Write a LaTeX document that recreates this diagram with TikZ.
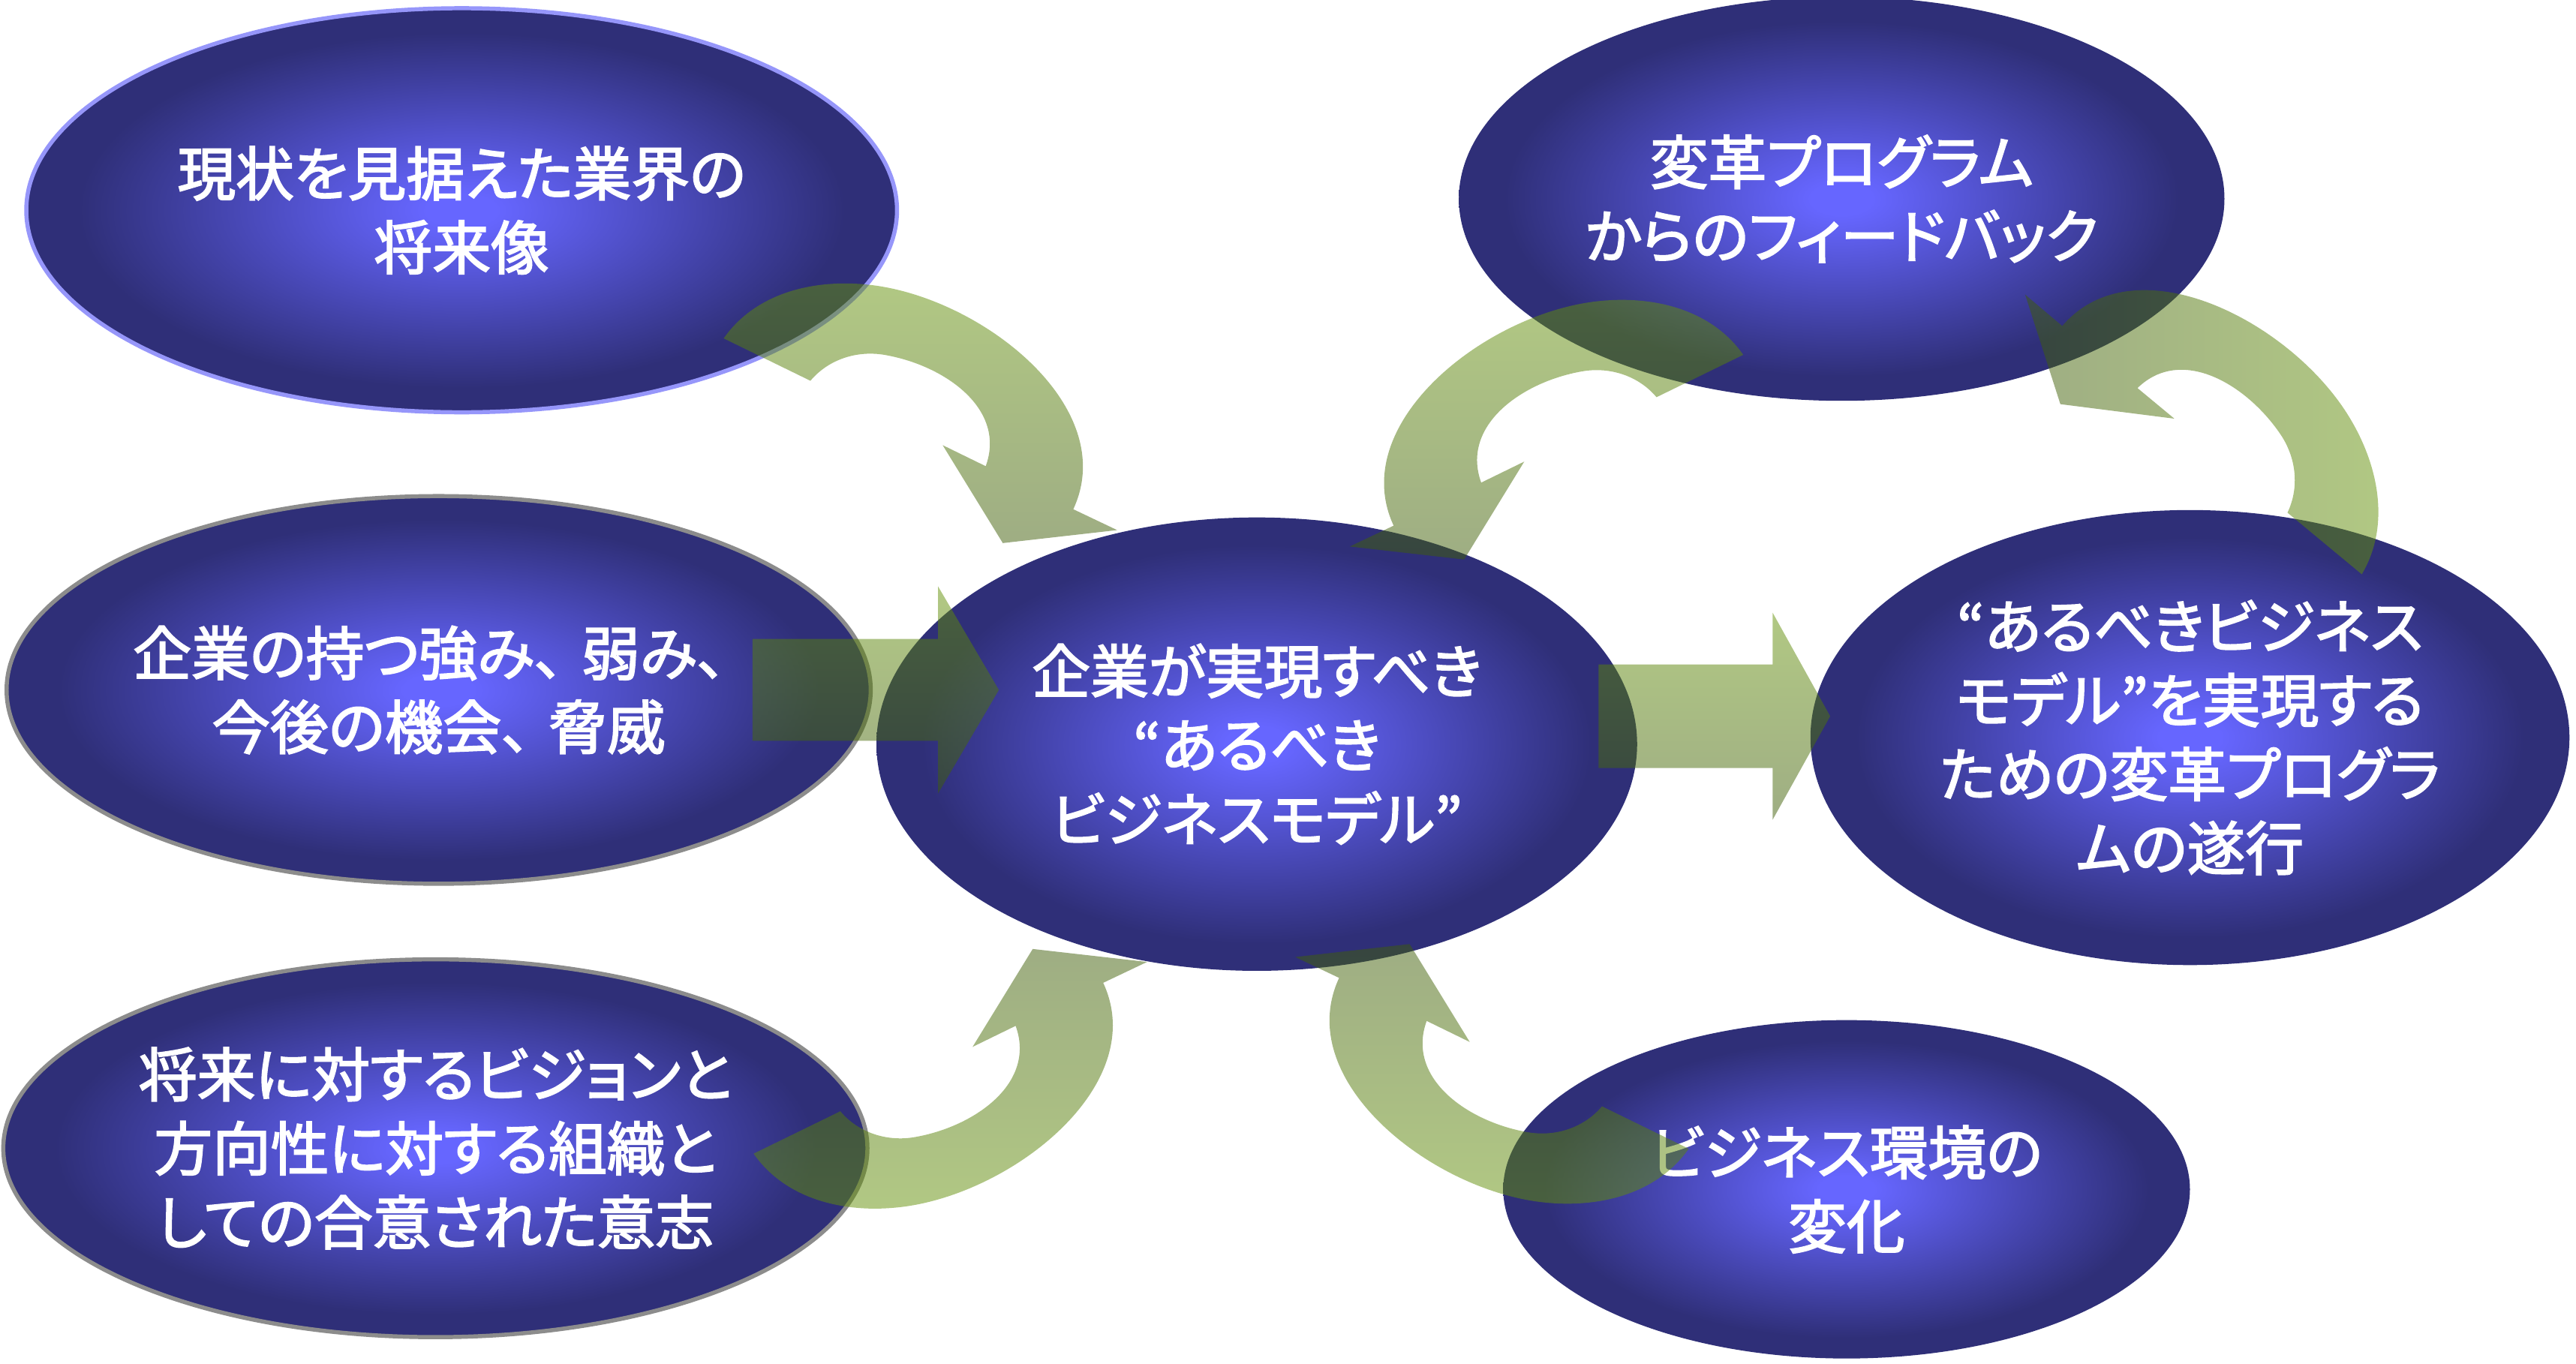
\documentclass[tikz,border=0pt]{standalone}
\usepackage{fontspec}
\usetikzlibrary{shapes.geometric}
\newfontfamily\jpfont{Noto Sans CJK JP}[FakeBold=2.5, RawFeature=+palt]
\newcommand{\jptext}{\jpfont\fontsize{35.5}{45}\selectfont}
\newcommand{\tou}{、\kern 11pt\relax}
\definecolor{ballIn}{RGB}{102,102,255}
\definecolor{ballOut}{RGB}{47,47,120}
\definecolor{arrL}{RGB}{100,146,8}
\definecolor{arrG}{RGB}{62,92,8}
\definecolor{rimLav}{RGB}{150,150,250}
\definecolor{rimGray}{RGB}{140,140,140}
\pgfdeclareradialshading{ballblue}{\pgfpoint{0bp}{0bp}}{color(0bp)=(ballIn); color(2bp)=(ballIn); color(22bp)=(ballOut); color(25bp)=(ballOut); color(50bp)=(ballOut)}
\tikzset{
  ball/.style={ellipse, shade, shading=ballblue, inner xsep=-60pt, inner ysep=-20pt,
    text=white, font=\jptext, align=center},
  garrow/.style={opacity=0.5},
}
% one curved block arrow, in its own frame (tail outer corner at the origin)
\newcommand{\carrowpath}{(0,0)
  .. controls (19.96,-28.5) and (56.8,-36.8) .. (91.3,-32.3)
  .. controls (158.7,-23.5) and (241.5,42.4) .. (212.8,104)
  -- (239.5,116.7) -- (169.9,124.6) -- (133.3,65) -- (159.5,77.8)
  .. controls (172.2,43.0) and (134.7,16.5) .. (98.3,10.1)
  .. controls (81.4,7.1) and (63.9,12.6) .. (52.8,25.8)
  -- cycle}
\begin{document}
\begin{tikzpicture}[x=1pt,y=-1pt]
\useasboundingbox (0,0) rectangle (1568,830);

% ---------- ellipses ----------
\node[ball, draw=rimLav, line width=2.5pt, minimum width=530pt, minimum height=246pt] (fut) at (281,128) {現状を見据えた業界の\\将来像};
\node[ball, draw=rimGray, line width=2.5pt, minimum width=526pt, minimum height=236pt] (swot) at (267,420) {企業の持つ強み\tou 弱み\tou\\今後の機会\tou 脅威};
\node[ball, draw=rimGray, line width=2.5pt, minimum width=526pt, minimum height=230pt] (will) at (265,699) {将来に対するビジョンと\\方向性に対する組織と\\しての合意された意志};
\node[ball, minimum width=463pt, minimum height=276pt] (model) at (765,453) {企業が実現すべき\\“あるべき\\ビジネスモデル”};
\node[ball, minimum width=466pt, minimum height=246pt] (fb) at (1121,121) {変革プログラム\\からのフィードバック};
\node[ball, minimum width=462pt, minimum height=277pt] (prog) at (1333,449) {“あるべきビジネス\\モデル”を実現する\\ための変革プログラ\\ムの遂行};
\node[ball, minimum width=418pt, minimum height=206pt] (env) at (1124,724) {ビジネス環境の\\変化};

% ---------- straight arrows ----------
\shade[garrow, top color=arrL, bottom color=arrG]
  (458,389) -- (571,389) -- (571,357) -- (608,420) -- (571,483) -- (571,451) -- (458,451) -- cycle;
\shade[garrow, top color=arrL, bottom color=arrG]
  (973,404.5) -- (1079,404.5) -- (1079,373) -- (1114,436) -- (1079,499) -- (1079,467.5) -- (973,467.5) -- cycle;

% ---------- curved arrows ----------
% fut -> model
\begin{scope}[shift={(440.5,206)}]
  \shade[garrow, top color=arrL, bottom color=arrG] \carrowpath;
\end{scope}
% fb -> model
\begin{scope}[shift={(1061.1,216)}, xscale=-1]
  \shade[garrow, top color=arrL, bottom color=arrG] \carrowpath;
\end{scope}
% prog -> fb
\begin{scope}[cm={-0.4115,0.9114,0.9114,0.4115,(1437.6,349.6)}]
  \shade[garrow, left color=arrG, right color=arrL] \carrowpath;
\end{scope}
% will -> model
\begin{scope}[shift={(458.7,702.3)}, yscale=-1]
  \shade[garrow, top color=arrG, bottom color=arrL] \carrowpath;
\end{scope}
% env -> model
\begin{scope}[shift={(1027.9,699.3)}, xscale=-1, yscale=-1]
  \shade[garrow, top color=arrG, bottom color=arrL] \carrowpath;
\end{scope}
\end{tikzpicture}
\end{document}
